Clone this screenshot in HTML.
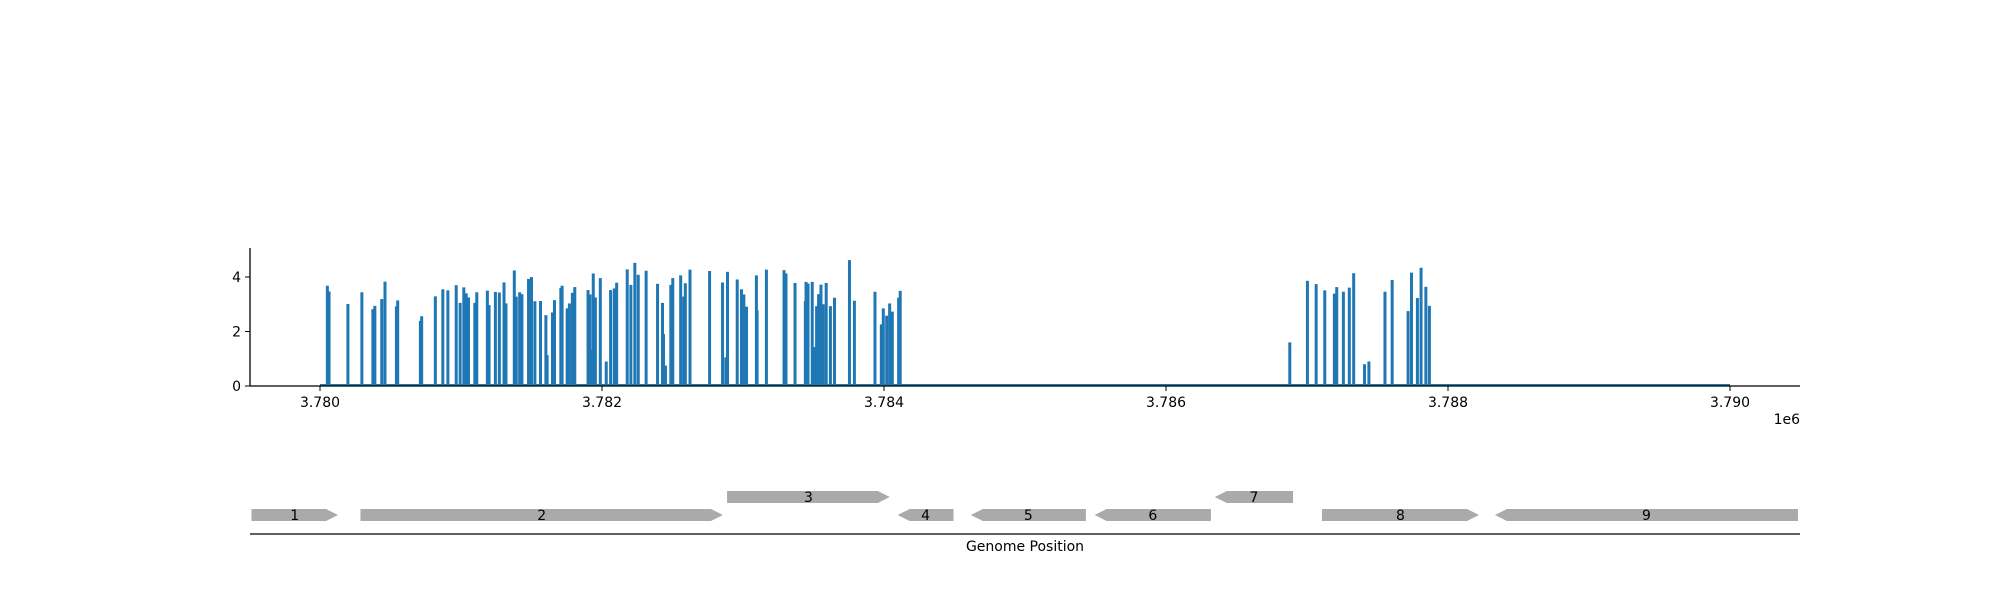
<!DOCTYPE html>
<html><head><meta charset="utf-8"><style>
html,body{margin:0;padding:0;background:#fff;}
svg{display:block;font-family:"DejaVu Sans","Liberation Sans",sans-serif;}
</style></head><body>
<svg id="chart" width="2000" height="600" viewBox="0 0 2000 600"></svg>
<script>
const positions=[3780052,3780064,3780198,3780297,3780375,3780389,3780438,3780461,3780542,3780551,3780712,3780721,3780818,3780871,3780907,3780966,3780994,3781020,3781037,3781053,3781098,3781112,3781187,3781199,3781244,3781272,3781305,3781319,3781378,3781392,3781416,3781432,3781479,3781500,3781524,3781564,3781602,3781611,3781649,3781663,3781708,3781717,3781753,3781769,3781790,3781807,3781901,3781915,3781924,3781938,3781953,3781988,3782030,3782061,3782087,3782104,3782179,3782205,3782233,3782257,3782313,3782394,3782429,3782436,3782450,3782488,3782502,3782558,3782579,3782591,3782624,3782763,3782855,3782878,3782890,3782959,3782989,3783006,3783025,3783095,3783100,3783166,3783291,3783305,3783369,3783442,3783447,3783461,3783491,3783510,3783522,3783536,3783553,3783569,3783590,3783620,3783649,3783755,3783790,3783936,3783981,3783995,3784019,3784040,3784059,3784104,3784115,3786878,3787003,3787065,3787126,3787194,3787211,3787258,3787300,3787331,3787408,3787439,3787553,3787604,3787717,3787741,3787783,3787809,3787843,3787868];
const values=[3.68,3.47,3.01,3.44,2.82,2.94,3.19,3.83,2.92,3.14,2.39,2.56,3.29,3.55,3.51,3.7,3.05,3.62,3.4,3.25,3.05,3.44,3.5,2.97,3.45,3.43,3.8,3.03,4.24,3.28,3.44,3.37,3.93,4.0,3.11,3.12,2.6,1.13,2.7,3.15,3.6,3.68,2.85,3.03,3.42,3.63,3.52,3.36,1.32,4.13,3.25,3.96,0.9,3.52,3.58,3.79,4.28,3.71,4.52,4.08,4.23,3.75,3.05,1.91,0.75,3.71,3.96,4.06,3.28,3.77,4.27,4.22,3.8,1.05,4.19,3.91,3.55,3.36,2.91,4.06,2.77,4.27,4.25,4.13,3.78,3.11,3.82,3.76,3.82,1.43,2.93,3.37,3.72,3.0,3.78,2.93,3.24,4.62,3.13,3.46,2.26,2.85,2.58,3.03,2.73,3.24,3.49,1.6,3.86,3.74,3.51,3.39,3.63,3.46,3.61,4.14,0.8,0.9,3.46,3.89,2.75,4.16,3.23,4.34,3.64,2.94];
const xTicks=[3780000,3782000,3784000,3786000,3788000,3790000];
const xTickLabels=["3.780","3.782","3.784","3.786","3.788","3.790"];
const yTicks=[0,2,4];
const geneNames=["1","2","3","4","5","6","7","8","9"];
const geneStarts=[3779514,3780287,3782887,3784097,3784616,3785494,3786346,3787106,3788333];
const geneEnds=[3780128,3782858,3784041,3784493,3785432,3786319,3786901,3788220,3790482];
const geneStrands=[1,1,1,-1,-1,-1,-1,1,-1];
const geneRows=[0,0,1,0,0,0,1,0,0];

const NS="http://www.w3.org/2000/svg";
const svg=document.getElementById('chart');
const X0=250,X1=1800,Y0=386,YT=248;
const xs=v=>320+(v-3780000)*0.141;
const ys=v=>Y0-v*27.25;
function mk(tag,attrs,parent){const e=document.createElementNS(NS,tag);for(const k in attrs)e.setAttribute(k,attrs[k]);(parent||svg).appendChild(e);return e;}

const base=mk('line',{x1:xs(3780000),x2:xs(3790000),y1:Y0-1,y2:Y0-1,stroke:'#1f77b4','stroke-width':2});


positions.forEach((p,i)=>{
  const r=mk('rect',{x:xs(p)-1.5,y:ys(values[i]),width:3,height:Y0-ys(values[i]),fill:'#1f77b4'});
  
  
});
const la=mk('line',{x1:X0,x2:X0,y1:YT,y2:Y0,stroke:'#000','stroke-width':1.3});


const ba=mk('line',{x1:X0,x2:X1,y1:Y0,y2:Y0,stroke:'#000','stroke-width':1.3});


xTicks.forEach((t,i)=>{
  mk('line',{x1:xs(t),x2:xs(t),y1:Y0,y2:Y0+5,stroke:'#000','stroke-width':1});
  const tx=mk('text',{x:xs(t),y:407,'text-anchor':'middle','font-size':14,fill:'#000'});
  tx.textContent=xTickLabels[i];
  
  
});
yTicks.forEach(t=>{
  mk('line',{x1:X0-5,x2:X0,y1:ys(t),y2:ys(t),stroke:'#000','stroke-width':1});
  const tx=mk('text',{x:X0-9,y:ys(t)+5,'text-anchor':'end','font-size':14,fill:'#000'});
  tx.textContent=t;
  
  
});
const off=mk('text',{x:1800,y:424,'text-anchor':'end','font-size':14,fill:'#000'});
off.textContent='1e6';



geneNames.forEach((n,i)=>{
  const a=xs(geneStarts[i]),b=xs(geneEnds[i]);
  const top=geneRows[i]?491:509, h=12, hl=12;
  let pts;
  if(geneStrands[i]>0){pts=[[a,top],[b-hl,top],[b,top+h/2],[b-hl,top+h],[a,top+h]];}
  else{pts=[[a,top+h/2],[a+hl,top],[b,top],[b,top+h],[a+hl,top+h]];}
  const g=mk('polygon',{points:pts.map(p=>p.join(',')).join(' '),fill:'#aaaaaa'});
  
  
  const t=mk('text',{x:(a+b)/2,y:top+11,'text-anchor':'middle','font-size':14,fill:'#000'});
  t.textContent=n;
  
  
});
const ga=mk('line',{x1:X0,x2:X1,y1:534,y2:534,stroke:'#000','stroke-width':1.3});


const gt=mk('text',{x:1025,y:551,'text-anchor':'middle','font-size':14,fill:'#000'});
gt.textContent='Genome Position';


</script>
</body></html>
